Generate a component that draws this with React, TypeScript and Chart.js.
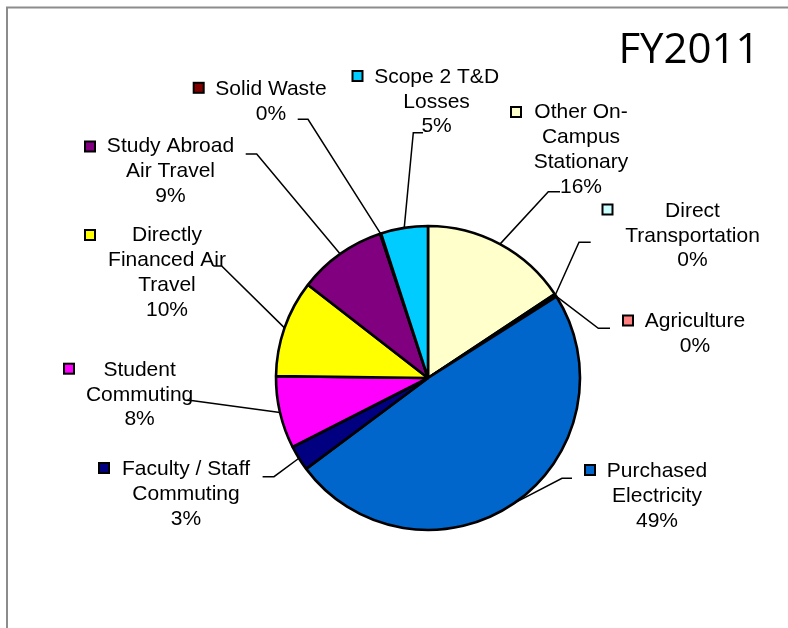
import React, { useEffect, useRef } from "react";
import { Chart, registerables } from "chart.js";

Chart.register(...registerables);

const title = "FY2011";

const categories = [
  "Other On-Campus Stationary",
  "Direct Transportation",
  "Agriculture",
  "Purchased Electricity",
  "Faculty / Staff Commuting",
  "Student Commuting",
  "Directly Financed Air Travel",
  "Study Abroad Air Travel",
  "Solid Waste",
  "Scope 2 T&D Losses",
];

// share of emissions (%)
const values = [15.7, 0.2, 0.1, 48.8, 2.7, 7.7, 10.3, 9.4, 0.1, 5.0];

const labelLines = [
  ["Other On-", "Campus", "Stationary"],
  ["Direct", "Transportation"],
  ["Agriculture"],
  ["Purchased", "Electricity"],
  ["Faculty / Staff", "Commuting"],
  ["Student", "Commuting"],
  ["Directly", "Financed Air", "Travel"],
  ["Study Abroad", "Air Travel"],
  ["Solid Waste"],
  ["Scope 2 T&D", "Losses"],
];

const colors = [
  "#FFFFCC",
  "#CCFFFF",
  "#FF8080",
  "#0066CC",
  "#000080",
  "#FF00FF",
  "#FFFF00",
  "#800080",
  "#800000",
  "#00CCFF",
];

// label layout (text centre x, first line y, marker centre, leader start & elbow)
const labelLayout = [
  { cx: 581, y0: 112.7, mx: 516, my: 112, lead: [[560, 191.7], [548.3, 191.7]] },
  { cx: 692.5, y0: 211, mx: 607.5, my: 209.5, lead: [[590.7, 242.3], [579, 242.3]] },
  { cx: 695, y0: 321, mx: 628, my: 320.5, lead: [[610, 328.3], [598.3, 328.3]] },
  { cx: 657, y0: 471.7, mx: 590, my: 470, lead: [[572, 478.3], [562, 478.3]] },
  { cx: 186, y0: 469.3, mx: 104, my: 468, lead: [[262.6, 476.7], [274, 476.7]] },
  { cx: 139.6, y0: 370, mx: 69, my: 368.7, lead: [[186.7, 400.3], [193.3, 400.7]] },
  { cx: 167, y0: 235.7, mx: 90, my: 235, lead: [[213.3, 266], [221.7, 266]] },
  { cx: 170.5, y0: 146.7, mx: 90, my: 146.5, lead: [[245.7, 154], [256.7, 154]] },
  { cx: 271, y0: 89, mx: 198.7, my: 87.8, lead: [[297.7, 119.3], [308, 119.3]] },
  { cx: 436.6, y0: 77, mx: 357.5, my: 76, lead: [[423, 132.7], [413.3, 132.7]] },
];

const LINE_H = 24.8;
const LABEL_FONT = '21px "Liberation Sans", Arial, sans-serif';

const decorPlugin = {
  id: "decor",
  afterDraw(chart: any) {
    const ctx = chart.ctx as CanvasRenderingContext2D;
    const meta = chart.getDatasetMeta(0);
    const total = values.reduce((a, b) => a + b, 0);
    ctx.save();
    // frame
    ctx.strokeStyle = "#8c8c8c";
    ctx.lineWidth = 2;
    ctx.beginPath();
    ctx.moveTo(7, 640);
    ctx.lineTo(7, 7.5);
    ctx.lineTo(800, 7.5);
    ctx.stroke();

    // title
    ctx.fillStyle = "#000";
    ctx.font = '42px "Open Sans", sans-serif';
    ctx.textAlign = "center";
    ctx.textBaseline = "alphabetic";
    ctx.fillText(title, 689, 63);

    // labels
    meta.data.forEach((arc: any, i: number) => {
      const L = labelLayout[i];
      const p = arc.getProps(["x", "y", "startAngle", "endAngle", "outerRadius"], true);
      const mid = (p.startAngle + p.endAngle) / 2;
      const ex = p.x + Math.cos(mid) * p.outerRadius;
      const ey = p.y + Math.sin(mid) * p.outerRadius;
      ctx.strokeStyle = "#000";
      ctx.lineWidth = 1.5;
      ctx.beginPath();
      ctx.moveTo(L.lead[0][0], L.lead[0][1]);
      ctx.lineTo(L.lead[1][0], L.lead[1][1]);
      ctx.lineTo(ex, ey);
      ctx.stroke();

      // marker
      ctx.fillStyle = colors[i];
      ctx.fillRect(L.mx - 5, L.my - 5, 10, 10);
      ctx.lineWidth = 2;
      ctx.strokeStyle = "#000";
      ctx.strokeRect(L.mx - 5, L.my - 5, 10, 10);

      // text
      ctx.fillStyle = "#000";
      ctx.font = LABEL_FONT;
      ctx.textAlign = "center";
      ctx.textBaseline = "middle";
      const lines = [...labelLines[i], Math.round((values[i] / total) * 100) + "%"];
      lines.forEach((t, k) => {
        ctx.fillText(t, L.cx, L.y0 + k * LINE_H);
      });
    });
    ctx.restore();
  },
};

export default function App() {
  const ref = useRef<HTMLCanvasElement | null>(null);
  useEffect(() => {
    if (!ref.current) return;
    const chart = new Chart(ref.current, {
      type: "pie",
      data: {
        labels: categories,
        datasets: [
          {
            data: values,
            backgroundColor: colors,
            borderColor: "#000",
            borderWidth: 2.6,
          },
        ],
      },
      options: {
        animation: false,
        responsive: false,
        radius: 152,
        layout: { padding: { left: 68, right: 0, top: 128, bottom: 0 } },
        plugins: {
          legend: { display: false },
          tooltip: { enabled: false },
          title: { display: false },
        },
      } as any,
      plugins: [decorPlugin],
    });
    return () => chart.destroy();
  }, []);
  return (
    <canvas
      ref={ref}
      width={788}
      height={628}
      style={{ position: "fixed", left: 0, top: 0, width: 788, height: 628, background: "#fff" }}
    />
  );
}
